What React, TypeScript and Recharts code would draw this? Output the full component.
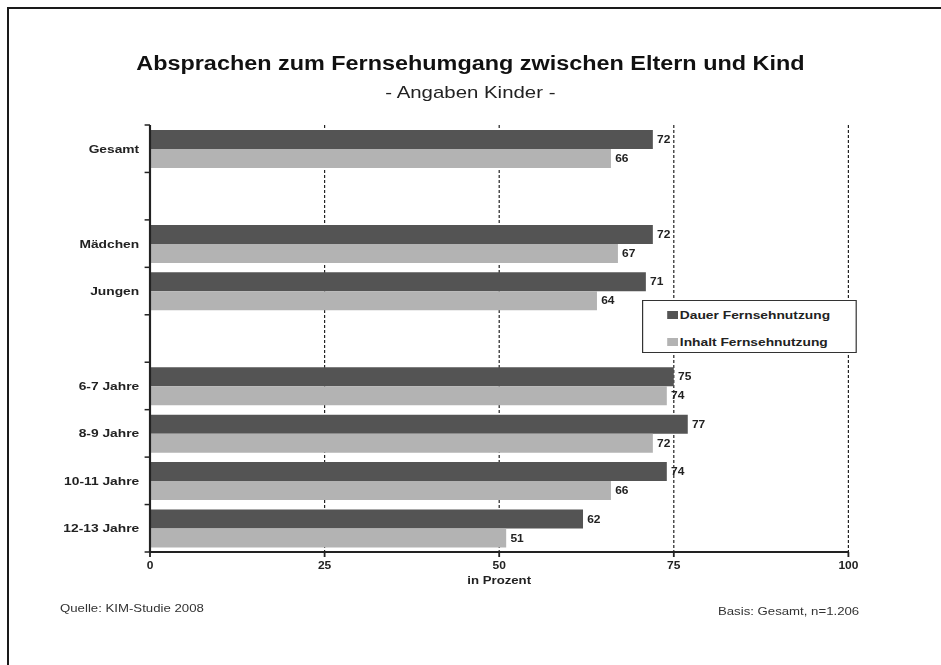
import { Bar, BarChart, CartesianGrid, LabelList, Legend, XAxis, YAxis } from "recharts"

const categories = ["Gesamt", "", "Mädchen", "Jungen", " ", "6-7 Jahre", "8-9 Jahre", "10-11 Jahre", "12-13 Jahre"]
const dauer = [72, null, 72, 71, null, 75, 77, 74, 62]
const inhalt = [66, null, 67, 64, null, 74, 72, 66, 51]
const xTicks = [0, 25, 50, 75, 100]
const seriesNames = ["Dauer Fernsehnutzung", "Inhalt Fernsehnutzung"]

const data = categories.map((name, i) => ({ name, dauer: dauer[i], inhalt: inhalt[i] }))

// the whole picture looks stretched sideways, so we draw narrower and scale x
const STRETCH = 1.2
const W = 784
const H = 665
const PLOT_LEFT = 125
const PLOT_TOP = 125
const AXIS_Y = 552
const BAND = (AXIS_Y - PLOT_TOP) / categories.length

const FONT = '"Liberation Sans", Arial, sans-serif'
const DARK = "#545454"
const LIGHT = "#b3b3b3"

function CategoryTick(props: any) {
  const { y, payload, index } = props
  const last = index === categories.length - 1
  return (
    <g>
      <text
        x={PLOT_LEFT - 9}
        y={y}
        dy="0.35em"
        textAnchor="end"
        fontFamily={FONT}
        fontSize={11.5}
        fontWeight="bold"
        fill="#222"
      >
        {payload.value}
      </text>
      <line x1={PLOT_LEFT - 4.5} x2={PLOT_LEFT} y1={y - BAND / 2} y2={y - BAND / 2} stroke="#222" strokeWidth={1.5} />
      {last && (
        <line x1={PLOT_LEFT - 4.5} x2={PLOT_LEFT} y1={y + BAND / 2} y2={y + BAND / 2} stroke="#222" strokeWidth={1.5} />
      )}
    </g>
  )
}

function LegendBox() {
  const colors = [DARK, LIGHT]
  return (
    <div style={{ fontFamily: FONT, fontSize: 11.5, fontWeight: "bold", color: "#222" }}>
      {seriesNames.map((n, i) => (
        <div key={n} style={{ display: "flex", alignItems: "center", height: 14, marginTop: i === 0 ? 7 : 13, marginLeft: 20 }}>
          <span style={{ display: "inline-block", width: 9, height: 8, background: colors[i], marginRight: 1.5 }} />
          <span>{n}</span>
        </div>
      ))}
    </div>
  )
}

export default function App() {
  return (
    <div style={{ position: "absolute", left: 0, top: 0, width: 941, height: 665, background: "#fff", overflow: "hidden" }}>
      {/* frame: only top and left edges show */}
      <div
        style={{
          position: "absolute",
          left: 7,
          top: 7,
          width: 940,
          height: 665,
          borderTop: "2px solid #1a1a1a",
          borderLeft: "2px solid #1a1a1a",
        }}
      />
      <div style={{ position: "absolute", left: 0, top: 0, width: W, height: H, transform: `scaleX(${STRETCH})`, transformOrigin: "0 0" }}>
        <div
          style={{
            position: "absolute",
            left: 0,
            top: 54,
            width: W,
            textAlign: "center",
            fontFamily: FONT,
            fontSize: 19.5,
            fontWeight: "bold",
            lineHeight: 1,
            color: "#111",
          }}
        >
          Absprachen zum Fernsehumgang zwischen Eltern und Kind
        </div>
        <div
          style={{
            position: "absolute",
            left: 0,
            top: 84,
            width: W,
            textAlign: "center",
            fontFamily: FONT,
            fontSize: 17,
            lineHeight: 1,
            color: "#222",
          }}
        >
          - Angaben Kinder -
        </div>

        <BarChart
          width={W}
          height={H}
          data={data}
          layout="vertical"
          margin={{ top: PLOT_TOP, right: 77, bottom: 83, left: 0 }}
          barCategoryGap={5}
          barGap={0}
        >
          <CartesianGrid horizontal={false} stroke="#222" strokeDasharray="3 2" />
          <XAxis
            type="number"
            domain={[0, 100]}
            ticks={xTicks}
            height={30}
            tickSize={5}
            tickMargin={5}
            stroke="#222"
            axisLine={{ stroke: "#222", strokeWidth: 1.8 }}
            tickLine={{ stroke: "#222", strokeWidth: 1.5 }}
            tick={{ fontFamily: FONT, fontSize: 10, fontWeight: "bold", fill: "#222" }}
            label={{
              value: "in Prozent",
              position: "insideBottom",
              offset: -2,
              style: { fontFamily: FONT, fontSize: 11, fontWeight: "bold", fill: "#222" },
            }}
          />
          <YAxis
            type="category"
            dataKey="name"
            width={PLOT_LEFT}
            axisLine={{ stroke: "#222", strokeWidth: 1.8 }}
            tickLine={false}
            tick={<CategoryTick />}
            interval={0}
          />
          <Legend
            layout="vertical"
            align="center"
            verticalAlign="middle"
            content={<LegendBox />}
            wrapperStyle={{
              left: 535,
              top: 300,
              width: 179,
              height: 53,
              border: "1px solid #333",
              background: "#fff",
              boxSizing: "border-box",
            }}
          />
          <Bar dataKey="dauer" name={seriesNames[0]} fill={DARK} isAnimationActive={false}>
            <LabelList
              dataKey="dauer"
              position="right"
              offset={3.5}
              style={{ fontFamily: FONT, fontSize: 10, fontWeight: "bold", fill: "#222" }}
            />
          </Bar>
          <Bar dataKey="inhalt" name={seriesNames[1]} fill={LIGHT} isAnimationActive={false}>
            <LabelList
              dataKey="inhalt"
              position="right"
              offset={3.5}
              style={{ fontFamily: FONT, fontSize: 10, fontWeight: "bold", fill: "#222" }}
            />
          </Bar>
        </BarChart>

        <div style={{ position: "absolute", left: 50, top: 603, fontFamily: FONT, fontSize: 11, lineHeight: 1, color: "#333" }}>
          Quelle: KIM-Studie 2008
        </div>
        <div
          style={{
            position: "absolute",
            right: W - 716,
            top: 606,
            fontFamily: FONT,
            fontSize: 11,
            lineHeight: 1,
            color: "#333",
            whiteSpace: "nowrap",
          }}
        >
          Basis: Gesamt, n=1.206
        </div>
      </div>
    </div>
  )
}
